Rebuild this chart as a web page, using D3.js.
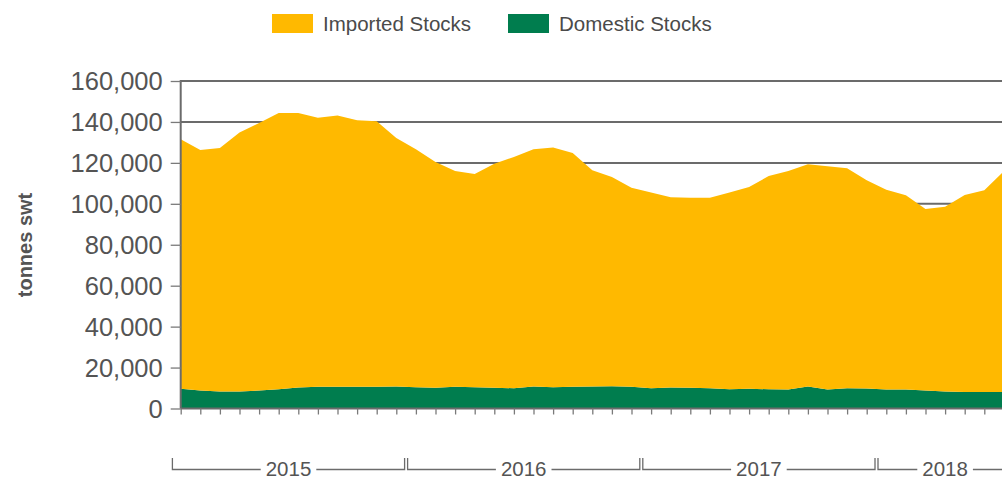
<!DOCTYPE html>
<html>
<head>
<meta charset="utf-8">
<script src="https://cdn.jsdelivr.net/npm/d3@7"></script>
<style>
  html, body { margin: 0; padding: 0; background: #fff; }
  svg { display: block; font-family: "Liberation Sans", Arial, sans-serif; }
</style>
</head>
<body>
<svg id="chart" width="1002" height="480"></svg>
<script>
// ---- Data (Jan 2015 – Jul 2018, monthly) ----
const months = [
  "2015-01","2015-02","2015-03","2015-04","2015-05","2015-06","2015-07","2015-08","2015-09","2015-10","2015-11","2015-12",
  "2016-01","2016-02","2016-03","2016-04","2016-05","2016-06","2016-07","2016-08","2016-09","2016-10","2016-11","2016-12",
  "2017-01","2017-02","2017-03","2017-04","2017-05","2017-06","2017-07","2017-08","2017-09","2017-10","2017-11","2017-12",
  "2018-01","2018-02","2018-03","2018-04","2018-05","2018-06","2018-07"
];
const domesticStocks = [
  9600, 8800, 8300, 8300, 8800, 9400, 10300, 10600, 10600, 10600, 10600, 10800,
  10400, 10100, 10600, 10400, 10100, 9900, 10800, 10400, 10600, 10800, 10900, 10600,
  9900, 10300, 10100, 9900, 9400, 9600, 9400, 9300, 10800, 9300, 9900, 9800,
  9300, 9300, 8800, 8300, 8100, 8100, 8100
];
const importedStocks = [
  121900, 117500, 119000, 126500, 130700, 135000, 134100, 131400, 132500, 130200, 129700, 121400,
  116200, 110300, 105400, 104200, 109500, 113000, 115800, 117100, 114200, 105600, 102200, 97300,
  95600, 92900, 92900, 93100, 96100, 98600, 104200, 106700, 108500, 109000, 107500, 101700,
  97600, 94900, 88700, 90300, 96200, 98500, 107900
];
const seriesNames = ["Imported Stocks", "Domestic Stocks"];
const seriesColors = ["#FFB900", "#007D4E"];
const yTicks = [0, 20000, 40000, 60000, 80000, 100000, 120000, 140000, 160000];
const years = ["2015", "2016", "2017", "2018"];

// ---- Layout ----
const svg = d3.select("#chart");
const x0 = 180.7, step = 19.6, yTop = 81, yBottom = 408.5, plotRight = 1002;

const x = d3.scaleLinear().domain([0, months.length - 1]).range([x0, x0 + step * (months.length - 1)]);
const y = d3.scaleLinear().domain([0, 160000]).range([yBottom, yTop]);

// Gridlines
svg.append("g").selectAll("line").data(yTicks.filter(d => d > 0)).join("line")
  .attr("x1", x0).attr("x2", plotRight)
  .attr("y1", d => y(d)).attr("y2", d => y(d))
  .attr("stroke", "#6b6b6b").attr("stroke-width", 2);

// Stacked areas
const table = months.map((m, i) => ({ i, domestic: domesticStocks[i], imported: importedStocks[i] }));
const stack = d3.stack().keys(["domestic", "imported"]);
const layers = stack(table);
const area = d3.area()
  .x(d => x(d.data.i))
  .y0(d => y(d[0]))
  .y1(d => y(d[1]));
const colorByKey = { imported: seriesColors[0], domestic: seriesColors[1] };
svg.append("g").selectAll("path").data(layers).join("path")
  .attr("d", area)
  .attr("fill", d => colorByKey[d.key]);

// Y axis
const yAxis = d3.axisLeft(y).tickValues(yTicks).tickFormat(d3.format(",")).tickSize(10).tickPadding(8);
const gy = svg.append("g").attr("transform", `translate(${x0},0)`).call(yAxis);
gy.select(".domain").attr("stroke", "#6b6b6b").attr("stroke-width", 2).attr("d", `M0,${yTop - 1}V${yBottom}`);
gy.selectAll(".tick line").attr("stroke", "#7a7a7a").attr("stroke-width", 1.3);
gy.selectAll(".tick text").attr("fill", "#545454").style("font-size", "25.5px")
  .style("font-family", "'Liberation Sans', Arial, sans-serif").attr("dy", "0.35em");

// X axis (monthly ticks)
const xAxis = d3.axisBottom(x).tickValues(d3.range(months.length)).tickFormat("").tickSize(6);
const gx = svg.append("g").attr("transform", `translate(0,${yBottom})`).call(xAxis);
gx.select(".domain").attr("stroke", "#6b6b6b").attr("stroke-width", 2).attr("d", `M${x0},0H${plotRight}`);
gx.selectAll(".tick line").attr("stroke", "#7a7a7a").attr("stroke-width", 1.3);

// Year brackets
const yearGroups = years.map(yr => {
  const idx = months.map((m, i) => m.startsWith(yr) ? i : -1).filter(i => i >= 0);
  return { yr, start: d3.min(idx), end: d3.max(idx) };
});
const bY = 469.5, bTop = 458;
const gb = svg.append("g");
yearGroups.forEach(g => {
  const left = x(g.start - 0.5) + 1.5;
  const right = x(g.end + 0.5) - 1.5;
  const cx = (left + right) / 2;
  const t = gb.append("text").attr("x", cx).attr("y", 475.8)
    .attr("text-anchor", "middle").attr("fill", "#545454").style("font-size", "20.5px").text(g.yr);
  const w = t.node().getComputedTextLength();
  const gap = 5;
  gb.append("path")
    .attr("d", `M${left},${bTop}V${bY}H${cx - w / 2 - gap}M${cx + w / 2 + gap},${bY}H${right}V${bTop}`)
    .attr("fill", "none").attr("stroke", "#6b6b6b").attr("stroke-width", 1.3);
});

// Y title
svg.append("text").attr("transform", "translate(32,245) rotate(-90)")
  .attr("text-anchor", "middle").attr("fill", "#545454")
  .style("font-size", "20px").style("font-weight", "bold").text("tonnes swt");

// Legend
const legendX = [272, 508];
const lg = svg.append("g");
seriesNames.forEach((name, i) => {
  lg.append("rect").attr("x", legendX[i]).attr("y", 14).attr("width", 41).attr("height", 19).attr("fill", seriesColors[i]);
  lg.append("text").attr("x", legendX[i] + 51).attr("y", 24).attr("dy", "0.35em")
    .attr("fill", "#4a4a4a").style("font-size", "20.5px").text(name);
});
</script>
</body>
</html>
